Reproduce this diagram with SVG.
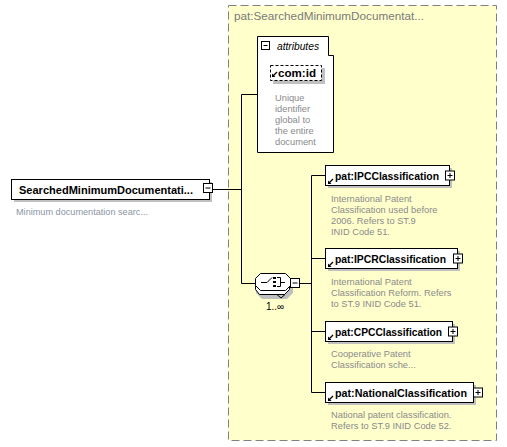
<svg xmlns="http://www.w3.org/2000/svg" width="507" height="447" viewBox="0 0 507 447">
<style>
.name{font-family:"Liberation Sans",Arial,sans-serif;font-weight:bold;font-size:11px;fill:#000}
.desc{font-family:"Liberation Sans",Arial,sans-serif;font-size:9.3px;fill:#8a8a8a}
.box{fill:#fff;stroke:#000;stroke-width:1}
.shadow{fill:#c0c0c0}
.conn{stroke:#000;stroke-width:1;fill:none}
.btn{fill:#fff;stroke:#000;stroke-width:1}
.sign{stroke:#000;stroke-width:1}
</style>
<defs>
<g id="refarrow"><path d="M0,0 L-4,4" stroke="#000" stroke-width="1.2"/><path d="M-5,5 L-5,1.5 L-1.5,5 Z" fill="#000"/></g>
</defs>
<rect width="507" height="447" fill="#fff"/>

<g id="complexType">
<rect x="228.5" y="5.5" width="268" height="435" fill="#ffffcc" stroke="#808080" stroke-dasharray="8,4"/>
<text x="234" y="20" font-family="Liberation Sans,Arial,sans-serif" font-size="11" fill="#7a7a7a" textLength="190" lengthAdjust="spacingAndGlyphs">pat:SearchedMinimumDocumentat...</text>
</g>

<g id="connectors">
<path class="conn" d="M213,189.5 H241.5 M241.5,94.5 V283.5 M241.5,94.5 H257 M241.5,283.5 H255 M300,283.5 H311.5 M311.5,175.5 V392.5 M311.5,175.5 H325 M311.5,258.5 H325 M311.5,331.5 H325 M311.5,392.5 H325"/>
</g>

<g id="root">
<rect class="shadow" x="14" y="182" width="198" height="20"/>
<rect class="box" x="11.5" y="179.5" width="198" height="20"/>
<text class="name" x="19" y="193.5" textLength="174" lengthAdjust="spacingAndGlyphs">SearchedMinimumDocumentati...</text>
<rect class="btn" x="203.5" y="183.5" width="9" height="9"/>
<path class="sign" d="M205.5,188 H210.5"/>
<text class="desc" x="16" y="214.5" style="fill:#8a94a4" textLength="132" lengthAdjust="spacingAndGlyphs">Minimum documentation searc...</text>
</g>

<g id="attributes">
<path class="box" d="M257.5,36.5 H328.5 V55.5 H333.5 V152.5 H257.5 Z"/>
<rect class="btn" x="261.5" y="41.5" width="8" height="8"/>
<path class="sign" d="M263.5,45.5 H267.5"/>
<text x="277" y="50" font-family="Liberation Sans,Arial,sans-serif" font-style="italic" font-size="10.5" fill="#000" textLength="42" lengthAdjust="spacingAndGlyphs">attributes</text>
<g id="attr-com-id">
<rect class="shadow" x="273" y="68" width="52" height="16"/>
<rect x="270.5" y="65.5" width="51" height="15" fill="#fff" stroke="#000" stroke-dasharray="3,2"/>
<use href="#refarrow" x="277" y="72"/>
<text class="name" x="278" y="76.5" textLength="38" lengthAdjust="spacingAndGlyphs">com:id</text>
</g>
<text class="desc" x="275" y="101">Unique</text>
<text class="desc" x="275" y="112">identifier</text>
<text class="desc" x="275" y="123">global to</text>
<text class="desc" x="275" y="134">the entire</text>
<text class="desc" x="275" y="145">document</text>
</g>

<g id="choice">
<path d="M262,281 H287 L293,287 V293 L287,299 H262 L256,293 V287 Z" fill="#c0c0c0"/>
<path d="M259.5,278.5 H284.5 L289.5,283.5 V289.5 L284.5,294.5 H259.5 L255.5,289.5 V283.5 Z" fill="#fff" stroke="#000"/>
<path d="M277,294.5 L281,298 L285,294.5" fill="none" stroke="#000"/>
<path d="M260.5,273.5 H285.5 L290.5,278.5 V285.5 L285.5,290.5 H260.5 L255.5,285.5 V278.5 Z" fill="#fff" stroke="#000"/>
<path d="M261,282.5 H267 L272,277.5" fill="none" stroke="#000"/>
<rect x="273" y="277" width="3" height="2" fill="#000"/>
<rect x="273" y="281" width="3" height="2" fill="#000"/>
<rect x="273" y="285" width="3" height="2" fill="#000"/>
<path d="M277,277.5 H280.5 V286.5 H277 M280.5,282.5 H285" fill="none" stroke="#000"/>
<rect class="btn" x="290.5" y="278.5" width="9" height="9"/>
<path class="sign" d="M292.5,283 H297.5"/>
<text x="266" y="310" font-family="Liberation Sans,Arial,sans-serif" font-size="10" fill="#000">1..∞</text>
</g>

<g id="IPCClassification">
<rect class="shadow" x="328" y="168" width="124" height="20"/>
<rect class="box" x="325.5" y="165.5" width="124" height="20"/>
<use href="#refarrow" x="333" y="179"/>
<text class="name" x="335" y="180" textLength="104" lengthAdjust="spacingAndGlyphs">pat:IPCClassification</text>
<rect class="btn" x="445.5" y="171" width="9" height="9"/>
<path class="sign" d="M447.5,175.5 H452.5 M450,173 V178"/>
<text class="desc" x="331" y="201.5">International Patent</text>
<text class="desc" x="331" y="212.5">Classification used before</text>
<text class="desc" x="331" y="223.5">2006. Refers to ST.9</text>
<text class="desc" x="331" y="234.5">INID Code 51.</text>
</g>

<g id="IPCRClassification">
<rect class="shadow" x="328" y="251" width="132" height="20"/>
<rect class="box" x="325.5" y="248.5" width="132" height="20"/>
<use href="#refarrow" x="333" y="262"/>
<text class="name" x="335" y="263" textLength="111" lengthAdjust="spacingAndGlyphs">pat:IPCRClassification</text>
<rect class="btn" x="453.5" y="254" width="9" height="9"/>
<path class="sign" d="M455.5,258.5 H460.5 M458,256 V261"/>
<text class="desc" x="331" y="284.5">International Patent</text>
<text class="desc" x="331" y="295.5">Classification Reform. Refers</text>
<text class="desc" x="331" y="306.5">to ST.9 INID Code 51.</text>
</g>

<g id="CPCClassification">
<rect class="shadow" x="328" y="324" width="127" height="20"/>
<rect class="box" x="325.5" y="321.5" width="127" height="20"/>
<use href="#refarrow" x="333" y="335"/>
<text class="name" x="335" y="336" textLength="107" lengthAdjust="spacingAndGlyphs">pat:CPCClassification</text>
<rect class="btn" x="448.5" y="327" width="9" height="9"/>
<path class="sign" d="M450.5,331.5 H455.5 M453,329 V334"/>
<text class="desc" x="331" y="357">Cooperative Patent</text>
<text class="desc" x="331" y="368">Classification sche...</text>
</g>

<g id="NationalClassification">
<rect class="shadow" x="328" y="385" width="148" height="20"/>
<rect class="box" x="325.5" y="382.5" width="148" height="20"/>
<use href="#refarrow" x="333" y="396"/>
<text class="name" x="335" y="397" textLength="132" lengthAdjust="spacingAndGlyphs">pat:NationalClassification</text>
<rect class="btn" x="473.5" y="388" width="9" height="9"/>
<path class="sign" d="M475.5,392.5 H480.5 M478,390 V395"/>
<text class="desc" x="331" y="418">National patent classification.</text>
<text class="desc" x="331" y="429">Refers to ST.9 INID Code 52.</text>
</g>
</svg>
